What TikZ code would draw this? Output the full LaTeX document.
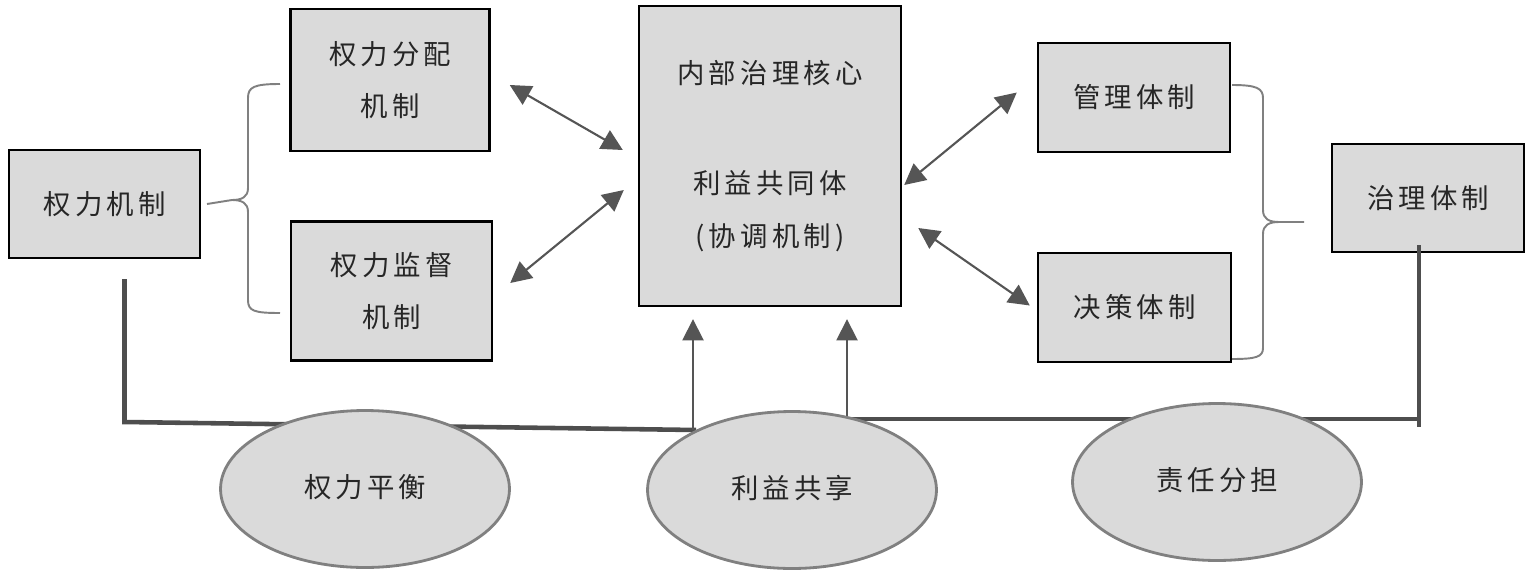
\documentclass[tikz,border=0pt]{standalone}
\usepackage{fontspec}
\usepackage{tikz}
\usetikzlibrary{arrows.meta,shapes.geometric}
\newfontfamily\cjk{Noto Sans CJK SC}[LetterSpace=15]
\definecolor{boxfill}{HTML}{DADADA}
\definecolor{linkgray}{HTML}{555555}
\definecolor{bargray}{HTML}{4E4E4E}
\definecolor{bracegray}{HTML}{808080}
\tikzset{
  box/.style={draw=black,line width=1.4pt,fill=boxfill,align=center,
    text=black!85,font=\cjk\fontsize{15.6}{30}\selectfont,inner sep=0pt},
  oval/.style={ellipse,draw=bracegray,line width=1.6pt,fill=boxfill,
    text=black!85,font=\cjk\fontsize{15.6}{30}\selectfont,inner sep=0pt,
    minimum width=5.78cm,minimum height=3.14cm},
  dbl/.style={linkgray,line width=1.2pt,{Triangle[length=12pt,width=12pt]}-{Triangle[length=12pt,width=12pt]}},
  up/.style={linkgray,line width=1pt,-{Triangle[length=12pt,width=12pt]}},
  bar/.style={bargray,line width=2.6pt},
  brace/.style={bracegray,line width=1.1pt}
}
\begin{document}
\begin{tikzpicture}[x=0.02cm,y=-0.02cm]
      \useasboundingbox (0,0) rectangle (1539,575);
      % boxes
      \node[box,minimum width=3.82cm,minimum height=2.16cm] (pwr) at (104.5,204) {权力机制};
      \node[box,minimum width=3.98cm,minimum height=2.84cm] (alloc) at (390,80) {权力分配\\机制};
      \node[box,minimum width=4.02cm,minimum height=2.78cm] (superv) at (391.5,291) {权力监督\\机制};
      \node[box,minimum width=5.24cm,minimum height=6cm] (core) at (770,156)
        {内部治理核心\\[33pt]利益共同体\\(协调机制)};
      \node[box,minimum width=3.84cm,minimum height=2.18cm] (mgmt) at (1134,97.5) {管理体制};
      \node[box,minimum width=3.86cm,minimum height=2.18cm] (dec) at (1134.5,307.5) {决策体制};
      \node[box,minimum width=3.84cm,minimum height=2.16cm] (gov) at (1428,198) {治理体制};
      % braces
      \draw[brace] (280,84) .. controls (254,84) and (248,87) .. (248,98) -- (248,188)
        .. controls (248,197) and (242,200) .. (232,200) -- (pwr.east -| 207,0);
      \draw[brace] (232,200) .. controls (242,200) and (248,203) .. (248,212) -- (248,300)
        .. controls (248,311) and (254,313) .. (280,313);
      \draw[brace] (1232,85) .. controls (1256,85) and (1263,88) .. (1263,98) -- (1263,210)
        .. controls (1263,219) and (1269,222) .. (1279,222) -- (1304,222);
      \draw[brace] (1279,222) .. controls (1269,222) and (1263,225) .. (1263,234) -- (1263,348)
        .. controls (1263,357) and (1256,359) .. (1232,359);
      % links to the core
      \draw[dbl] ([shift={(19,5)}]alloc.east) -- ([shift={(-15,-6)}]core.west);
      \draw[dbl] ([shift={(17,-8)}]superv.east) -- ([shift={(-14,34)}]core.west);
      \draw[dbl] ([shift={(2,29)}]core.east) -- ([shift={(-20,-5)}]mgmt.west);
      \draw[dbl] ([shift={(16,72)}]core.east) -- ([shift={(-7,-2)}]dec.west);
      % bars
      \coordinate (j1) at (696,430);
      \coordinate (j2) at (847,419);
      \draw[bar] ([shift={(20,20)}]pwr.south) -- (124.5,422) -- (j1);
      \draw[bar] ([shift={(-9,-8)}]gov.south) -- (1419,427);
      \draw[bar] (j2) -- (1420,419);
      \draw[up] (j1 -| 693,0) -- ([shift={(-77,12)}]core.south);
      \draw[up] (j2) -- ([shift={(77,12)}]core.south);
      % ovals
      \node[oval] (bal) at (365,489) {\raisebox{4pt}{权力平衡}};
      \node[oval] (share) at (792,490) {\raisebox{4pt}{利益共享}};
      \node[oval] (resp) at (1217,482) {\raisebox{3pt}{责任分担}};
\end{tikzpicture}
\end{document}
